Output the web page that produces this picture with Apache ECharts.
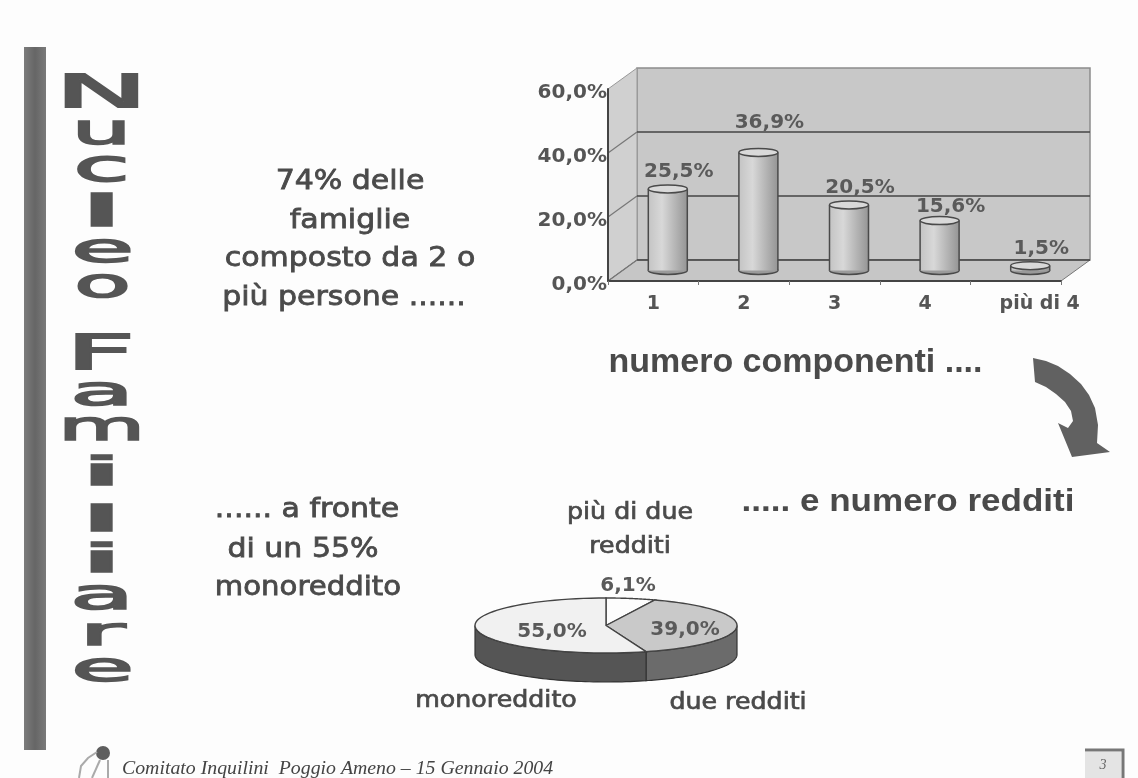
<!DOCTYPE html>
<html>
<head>
<meta charset="utf-8">
<style>html,body{margin:0;padding:0;background:#fdfdfd}#c{width:1138px;height:778px}</style>
<script src="https://cdn.jsdelivr.net/npm/echarts@6/dist/echarts.min.js"></script>
</head>
<body>
<div id="c"></div>
<script>
// ---- data ----
const componentCategories = ['1', '2', '3', '4', 'più di 4'];
const componentValues = [25.5, 36.9, 20.5, 15.6, 1.5];
const yTicks = [0, 20, 40, 60];
const incomeNames = ['più di due\nredditi', 'due redditi', 'monoreddito'];
const incomeValues = [6.1, 39.0, 55.0];
const titleLetters = ['N','u','c','l','e','o','F','a','m','i','l','i','a','r','e'];

// ---- layout ----
const depthX = 29, depthY = 21;
const labelLift = [17, 30, 17, 14, 17];
const pieGeo = {cx: 606, cy: 625.5, rx: 131, ry: 27.5, h: 29};
const pieTopFill = ['#fdfdfd', '#c9c9c9', '#f1f1f1'];
const pieSideFill = ['#666', '#6b6b6b', '#555'];
const piePctPos = [[628, 586], [685, 630], [552, 632]];
const pieNamePos = [[630, 530], [738, 703], [496, 701]];
// letter boxes of the stacked WordArt title: [top, bottom, left, right]
const titleBoxes = [[80,112,63,140],[121,145,78,125],[157,182,78,125],[198,231,93,110],[240,263,76,129],[275,298,78,127],
  [339,374,73,128],[383,406,76,128],[418,441,65,138],[461,490,93,110],[508,535,93,110],[548,577,93,110],[586,610,76,128],[624,646,82,122],[659,682,76,129]];
const glyphInk = {N:[.62,.73],u:[.5,.56],c:[.46,.56],l:[.1,.76],e:[.52,.56],o:[.53,.56],F:[.46,.73],a:[.5,.56],m:[.82,.56],i:[.1,.76],r:[.36,.56]};
const fmt = v => v.toFixed(1).replace('.', ',') + '%';
const comic = '"DejaVu Sans"';
const ink = '#4a4a4a';
const sans = '"Liberation Sans"';
const numFont = 'bold 20px "DejaVu Sans"';

function ell(t, yShift) {
  return [pieGeo.cx + pieGeo.rx * Math.sin(t), pieGeo.cy - pieGeo.ry * Math.cos(t) + (yShift || 0)];
}

function renderWalls(params, api) {
  const p00 = api.coord([0, 0]), p60 = api.coord([0, 60]);
  const cs = params.coordSys;
  const L = cs.x, R = cs.x + cs.width, B = p00[1], T = p60[1];
  const line = {stroke: '#444', lineWidth: 1.6};
  const kids = [
    {type: 'polygon', shape: {points: [[L + depthX, T - depthY], [R + depthX, T - depthY], [R + depthX, B - depthY], [L + depthX, B - depthY]]}, style: {fill: '#c8c8c8', stroke: '#8c8c8c', lineWidth: 1.5}},
    {type: 'polygon', shape: {points: [[L, T], [L + depthX, T - depthY], [L + depthX, B - depthY], [L, B]]}, style: {fill: '#d0d0d0', stroke: '#999', lineWidth: 1}},
    {type: 'polygon', shape: {points: [[L, B], [L + depthX, B - depthY], [R + depthX, B - depthY], [R, B]]}, style: {fill: '#c6c6c6', stroke: '#777', lineWidth: 1}}
  ];
  yTicks.forEach(v => {
    const y = api.coord([0, v])[1];
    if (v < 60) {
      kids.push({type: 'line', shape: {x1: L + depthX, y1: y - depthY, x2: R + depthX, y2: y - depthY}, style: line});
      kids.push({type: 'line', shape: {x1: L, y1: y, x2: L + depthX, y2: y - depthY}, style: {stroke: '#777', lineWidth: 1.2}});
    }
  });
  return {type: 'group', children: kids};
}

function renderCylinder(params, api) {
  const i = api.value(0), v = api.value(1);
  const b = api.coord([i, 0]), t = api.coord([i, v]);
  const cx = b[0] + depthX / 2, by = b[1] - depthY / 2, ty = t[1] - depthY / 2;
  const rx = 19.5, ry = 4;
  const grad = new echarts.graphic.LinearGradient(0, 0, 1, 0, [
    {offset: 0, color: '#c4c4c4'}, {offset: 0.35, color: '#d8d8d8'}, {offset: 1, color: '#959595'}
  ]);
  const edge = {stroke: '#4a4a4a', lineWidth: 1.5};
  return {type: 'group', children: [
    {type: 'ellipse', shape: {cx: cx, cy: by, rx: rx, ry: ry}, style: Object.assign({fill: '#9a9a9a'}, edge)},
    {type: 'rect', shape: {x: cx - rx, y: ty, width: 2 * rx, height: by - ty}, style: {fill: grad}},
    {type: 'line', shape: {x1: cx - rx, y1: ty, x2: cx - rx, y2: by}, style: edge},
    {type: 'line', shape: {x1: cx + rx, y1: ty, x2: cx + rx, y2: by}, style: edge},
    {type: 'ellipse', shape: {cx: cx, cy: ty, rx: rx, ry: ry}, style: Object.assign({fill: '#d9d9d9'}, edge)},
    {type: 'text', style: {text: fmt(v), x: cx + 11, y: ty - labelLift[i], align: 'center', verticalAlign: 'middle', font: numFont, fill: '#5a5a5a'}}
  ]};
}

function renderPie(params, api) {
  const i = params.dataIndex;
  const total = incomeValues.reduce((a, b) => a + b, 0);
  const before = incomeValues.slice(0, i).reduce((a, b) => a + b, 0);
  const a0 = before / total * 2 * Math.PI;
  const a1 = (before + api.value(0)) / total * 2 * Math.PI;
  const top = [[pieGeo.cx, pieGeo.cy]];
  const n = 60;
  for (let k = 0; k <= n; k++) top.push(ell(a0 + (a1 - a0) * k / n));
  const kids = [];
  const s0 = Math.max(a0, Math.PI / 2), s1 = Math.min(a1, 3 * Math.PI / 2);
  if (s1 > s0) {
    const up = [], down = [];
    for (let k = 0; k <= n; k++) {
      const t = s0 + (s1 - s0) * k / n;
      up.push(ell(t));
      down.unshift(ell(t, pieGeo.h));
    }
    kids.push({type: 'polygon', shape: {points: up.concat(down)}, style: {fill: pieSideFill[i], stroke: '#333', lineWidth: 1.2}});
  }
  kids.push({type: 'polygon', shape: {points: top}, style: {fill: pieTopFill[i], stroke: '#444', lineWidth: 1.4}});
  kids.push({type: 'text', z2: 5, style: {text: fmt(api.value(0)), x: piePctPos[i][0], y: piePctPos[i][1], align: 'center', verticalAlign: 'middle', font: numFont, fill: '#5a5a5a'}});
  kids.push({type: 'text', z2: 5, x: pieNamePos[i][0], y: pieNamePos[i][1], scaleX: 1.1, style: {text: incomeNames[i], x: 0, y: 0, align: 'center', verticalAlign: 'middle', font: '23px ' + comic, lineHeight: 34, fill: ink, stroke: ink, lineWidth: 0.7}});
  return {type: 'group', children: kids};
}

function txt(text, x, y, font, sx, align, fill, sw) {
  const col = fill || ink;
  return {type: 'text', z: 10, x: x, y: y, scaleX: sx || 1, style: {text: text, x: 0, y: 0, font: font, fill: col, stroke: col, lineWidth: sw === undefined ? 0.8 : sw, align: align || 'center', verticalAlign: 'middle'}};
}

const titleElements = titleLetters.map((ch, i) => {
  const b = titleBoxes[i], m = glyphInk[ch], fs = 40;
  return {
    type: 'text', z: 10,
    x: (b[2] + b[3]) / 2, y: (b[0] + b[1]) / 2,
    scaleX: (b[3] - b[2]) / (m[0] * fs), scaleY: (b[1] - b[0]) / (m[1] * fs),
    style: {text: ch, x: 0, y: 0, font: fs + 'px ' + comic, fill: '#555', stroke: '#555', lineWidth: 1.6, align: 'center', verticalAlign: 'middle'}
  };
});

const arrowPts = [[1033,358],[1046,361],[1058,366],[1070,374],[1081,384],[1089,395],[1095,408],[1098,425],[1097,443],[1110,452],[1072,457],[1058,423],[1068,428],[1073,421],[1071,411],[1065,402],[1056,394],[1046,387],[1035,382]];

const chart = echarts.init(document.getElementById('c'), null, {renderer: 'canvas'});
chart.setOption({
  animation: false,
  backgroundColor: '#fdfdfd',
  grid: {left: 608, right: 77, top: 89, bottom: 497, containLabel: false},
  xAxis: {
    type: 'category', z: 5,
    data: componentCategories.map((c, i) => i === 4 ? {value: c, textStyle: {padding: [0, 0, 0, 48]}} : c),
    axisLine: {lineStyle: {color: '#444', width: 2}},
    axisTick: {show: true, interval: 0, length: 4, lineStyle: {color: '#777'}},
    axisLabel: {interval: 0, margin: 14, fontFamily: 'DejaVu Sans', fontWeight: 'bold', fontSize: 19, color: '#555'},
    name: 'numero componenti ....', nameLocation: 'middle', nameGap: 65,
    nameTextStyle: {fontFamily: sans, fontWeight: 'bold', fontSize: 34, color: ink, padding: [0, 78, 0, 0]}
  },
  yAxis: {
    type: 'value', min: 0, max: 60, interval: 20, z: 5,
    axisLine: {show: true, lineStyle: {color: '#444', width: 2}},
    axisTick: {show: false}, splitLine: {show: false},
    axisLabel: {margin: 1, formatter: v => fmt(v), fontFamily: 'DejaVu Sans', fontWeight: 'bold', fontSize: 20, color: '#555', verticalAlign: 'top', lineHeight: 8}
  },
  series: [
    {type: 'custom', z: 1, coordinateSystem: 'cartesian2d', data: [[0, 0]], renderItem: renderWalls, silent: true},
    {type: 'custom', z: 3, coordinateSystem: 'cartesian2d', data: componentValues.map((v, i) => [i, v]), renderItem: renderCylinder},
    {type: 'custom', z: 3, coordinateSystem: 'none', data: incomeValues.map(v => [v]), renderItem: renderPie}
  ],
  graphic: [
    {type: 'rect', z: 0, shape: {x: 24, y: 47, width: 22, height: 703}, style: {fill: new echarts.graphic.LinearGradient(0, 0, 1, 0, [{offset: 0, color: '#7c7c7c'}, {offset: 0.5, color: '#666'}, {offset: 1, color: '#7a7a7a'}])}},
    ...titleElements,
    txt('74% delle', 350, 182, '27px ' + comic, 1.11),
    txt('famiglie', 350, 221, '27px ' + comic, 1.11),
    txt('composto da 2 o', 350, 259, '27px ' + comic, 1.11),
    txt('più persone ......', 344, 298, '27px ' + comic, 1.11),
    txt('...... a fronte', 307, 510, '27px ' + comic, 1.11),
    txt('di un 55%', 303, 550, '27px ' + comic, 1.11),
    txt('monoreddito', 308, 588, '27px ' + comic, 1.08),
    txt('..... e numero redditi', 908, 502, 'bold 31px ' + sans, 1.13, 'center', ink, 0),
    {type: 'polygon', z: 4, shape: {points: arrowPts}, style: {fill: '#616161'}},
    {type: 'circle', z: 4, shape: {cx: 103, cy: 753, r: 7}, style: {fill: '#5e5e5e'}},
    {type: 'polyline', z: 4, shape: {points: [[79,778],[81,766],[88,758],[97,752]]}, style: {fill: 'none', stroke: '#aaa', lineWidth: 2}},
    {type: 'line', z: 4, shape: {x1: 92, y1: 778, x2: 100, y2: 760}, style: {stroke: '#aaa', lineWidth: 2}},
    {type: 'line', z: 4, shape: {x1: 108, y1: 760, x2: 108, y2: 778}, style: {stroke: '#aaa', lineWidth: 2}},
    txt('Comitato Inquilini  Poggio Ameno – 15 Gennaio 2004', 122, 769, 'italic 18px "Liberation Serif"', 1.1, 'left', '#444', 0),
    {type: 'rect', z: 4, shape: {x: 1085, y: 752, width: 36, height: 26}, style: {fill: '#e4e4e4'}},
    {type: 'polyline', z: 4, shape: {points: [[1085,750],[1123,750],[1123,778]]}, style: {fill: 'none', stroke: '#777', lineWidth: 3}},
    txt('3', 1103, 765, 'italic 14px "Liberation Serif"', 1, 'center', '#666', 0)
  ]
});
</script>
</body>
</html>
